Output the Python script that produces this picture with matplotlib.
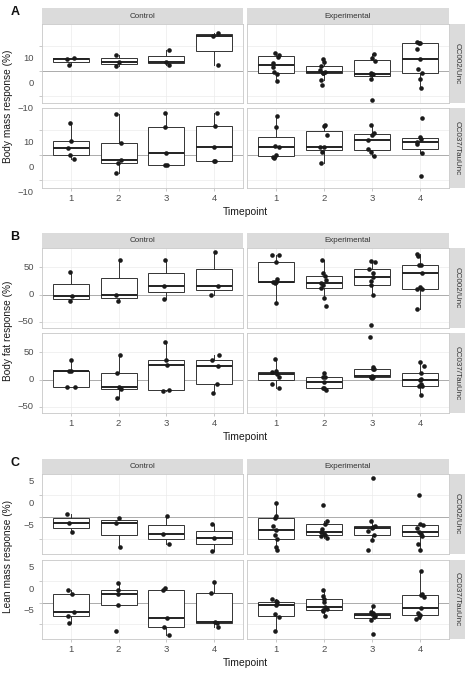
import numpy as np
import matplotlib
matplotlib.use('Agg')
import matplotlib.pyplot as plt
from matplotlib import transforms

plt.rcParams['font.family'] = ['Liberation Sans', 'DejaVu Sans']

# ---- data ----
timepoints = [1, 2, 3, 4]
groups = ['Control', 'Experimental']
strains = ['CC002/Unc', 'CC037/TauUnc']

# A: body mass response (%)
mass_ctrl_cc002 = [[4.6, 5.3, 2.3], [6.4, 3.7, 1.9], [8.2, 3.7, 2.3], [14.0, 15.2, 2.1]]
mass_ctrl_cc002_dx = [[-0.07, 0.07, -0.03], [-0.06, 0.0, -0.06], [0.06, 0.0, 0.05], [-0.03, 0.07, 0.07]]
mass_ctrl_cc037 = [[12.8, 5.8, 2.8, 0.0, -1.3], [16.6, 4.9, -3.0, -1.7, -7.2],
                   [17.0, 11.4, 0.8, -3.9, -3.9], [17.0, 11.6, 3.3, -2.4, -2.4]]
mass_ctrl_cc037_dx = [[-0.01, 0.0, -0.05, -0.01, 0.07], [-0.06, 0.05, -0.02, 0.06, -0.06],
                      [-0.03, -0.04, 0.0, -0.04, 0.01], [0.06, 0.02, -0.01, 0.01, 0.0]]
mass_exp_cc002 = [[7.2, 6.5, 5.5, 3.0, 1.6, -0.5, -1.5, -4.1],
                  [4.9, 3.6, 1.8, 0.2, -0.5, -0.8, -1.0, -3.8, -5.6],
                  [6.7, 5.2, 3.8, -1.1, -1.3, -1.5, -3.3, -11.7],
                  [11.4, 11.3, 11.2, 8.7, 4.8, 0.7, -0.8, -3.3, -6.8]]
mass_exp_cc002_dx = [[-0.02, 0.06, 0.04, -0.05, -0.06, -0.03, 0.02, 0.03],
                     [-0.03, 0.01, -0.06, -0.08, 0.02, -0.03, -0.01, -0.06, -0.05],
                     [0.05, 0.0, 0.06, -0.03, 0.01, -0.02, -0.03, 0.0],
                     [-0.07, 0.0, -0.03, -0.07, 0.0, -0.05, 0.04, 0.0, 0.02]]
mass_exp_cc037 = [[15.5, 11.1, 3.7, 3.1, 0.3, -0.5, -1.2],
                  [12.1, 11.5, 7.9, 3.3, 3.2, 1.2, -2.9],
                  [12.0, 8.7, 8.2, 5.9, 2.4, 1.5, -0.3],
                  [14.8, 7.1, 6.3, 5.1, 4.5, 0.9, -8.3]]
mass_exp_cc037_dx = [[0.03, 0.01, -0.02, 0.06, 0.0, -0.05, -0.03],
                     [0.03, 0.01, 0.06, -0.08, 0.0, -0.05, -0.06],
                     [-0.02, 0.05, 0.0, -0.08, -0.08, -0.03, 0.05],
                     [0.03, -0.01, 0.01, -0.07, -0.06, 0.04, 0.01]]

# B: body fat response (%)
fat_ctrl_cc002 = [[40.9, -3.0, -12.2], [62.2, 0.0, -11.6], [62.2, 16.5, -7.3], [77.5, 16.5, -1.2]]
fat_ctrl_cc002_dx = [[-0.01, 0.02, -0.01], [0.03, -0.06, -0.02], [-0.04, -0.06, -0.06], [0.02, 0.07, -0.06]]
fat_ctrl_cc037 = [[36.6, 16.2, 15.9, -13.0, -13.4], [45.1, 11.6, -13.4, -17.1, -32.9],
                  [68.9, 36.6, 26.8, -18.3, -20.7], [44.5, 36.0, 25.0, -7.9, -24.4]]
fat_ctrl_cc037_dx = [[0.01, 0.0, -0.03, -0.07, 0.08], [0.03, -0.04, 0.0, 0.06, -0.04],
                     [-0.04, 0.0, 0.01, 0.05, -0.08], [0.09, -0.05, 0.07, 0.06, -0.03]]
fat_exp_cc002 = [[72.6, 71.4, 59.2, 28.1, 22.8, 22.5, 22.2, 21.8, -14.6],
                 [63.4, 39.7, 33.0, 26.8, 21.4, 18.3, 12.2, -6.1, -20.7],
                 [61.0, 59.2, 45.8, 40.0, 32.9, 25.0, 18.3, 0.0, -54.9],
                 [74.4, 69.5, 54.3, 53.1, 39.7, 14.0, 11.0, 10.4, -26.2]]
fat_exp_cc002_dx = [[-0.08, 0.06, 0.0, 0.02, -0.05, -0.01, 0.0, -0.02, 0.01],
                    [-0.05, -0.01, 0.03, 0.05, -0.07, -0.02, -0.06, 0.0, 0.05],
                    [-0.03, 0.06, -0.06, 0.01, 0.01, -0.02, -0.02, 0.03, -0.02],
                    [-0.06, -0.05, -0.03, 0.02, 0.03, 0.0, 0.04, -0.07, -0.07]]
fat_exp_cc037 = [[38.4, 15.3, 14.0, 9.8, 5.5, -7.9, -15.3],
                 [11.6, 5.5, 4.3, -4.9, -14.6, -16.0, -18.9],
                 [77.5, 22.6, 19.5, 18.9, 6.1, 5.5, 4.6, 4.0, 3.0],
                 [32.9, 24.4, 12.2, 1.2, -1.2, -7.9, -11.0, -11.5, -27.5]]
fat_exp_cc037_dx = [[-0.02, 0.0, -0.07, 0.03, 0.06, -0.07, 0.07],
                    [0.0, -0.01, 0.03, 0.01, -0.03, 0.0, 0.05],
                    [-0.04, 0.03, 0.05, 0.01, 0.0, -0.02, -0.03, 0.01, 0.0],
                    [0.0, 0.07, 0.02, 0.02, -0.01, 0.01, -0.03, 0.03, 0.02]]

# C: lean mass response (%)
lean_ctrl_cc002 = [[0.8, -1.4, -3.4], [-0.1, -1.4, -6.7], [0.2, -3.8, -6.2], [-1.5, -4.7, -7.7]]
lean_ctrl_cc002_dx = [[-0.07, -0.03, 0.02], [0.0, -0.06, 0.03], [0.01, -0.08, 0.05], [-0.05, 0.0, -0.05]]
lean_ctrl_cc037 = [[2.9, 2.0, -2.1, -3.0, -4.8], [4.4, 2.8, 2.0, -0.6, -6.6],
                   [3.4, 3.0, -3.6, -5.6, -7.5], [4.7, 2.2, -4.4, -4.8, -5.7]]
lean_ctrl_cc037_dx = [[-0.05, 0.03, 0.07, -0.06, -0.03], [-0.02, -0.01, -0.02, -0.02, -0.06],
                      [-0.03, -0.07, 0.01, -0.06, 0.06], [0.0, -0.07, 0.01, 0.06, 0.08]]
lean_exp_cc002 = [[3.3, 0.15, -0.3, -2.1, -2.9, -4.0, -5.1, -6.9, -7.4],
                  [2.8, -1.0, -1.6, -2.7, -3.4, -3.8, -4.0, -4.2, -4.7],
                  [8.9, -0.8, -2.1, -2.2, -2.4, -3.1, -4.0, -5.3, -7.6],
                  [5.0, -1.5, -1.7, -2.5, -3.3, -3.8, -4.2, -6.1, -7.4]]
lean_exp_cc002_dx = [[0.01, 0.01, -0.02, -0.05, 0.01, -0.02, 0.03, 0.01, 0.03],
                     [-0.03, 0.07, 0.02, -0.05, -0.07, 0.0, 0.03, -0.06, 0.06],
                     [0.03, -0.03, 0.06, 0.01, 0.0, -0.08, 0.05, 0.0, -0.08],
                     [-0.03, 0.0, 0.06, -0.06, -0.03, 0.01, 0.04, -0.05, -0.01]]
lean_exp_cc037 = [[0.8, 0.3, 0.1, -0.5, -2.7, -3.4, -6.6],
                  [2.9, 1.6, 0.8, 0.1, -1.1, -1.6, -1.8, -2.0, -3.2],
                  [-0.8, -2.2, -2.4, -2.7, -3.0, -3.4, -4.0, -7.2],
                  [7.2, 2.0, 1.8, 1.2, -1.2, -2.4, -2.8, -3.4, -3.9]]
lean_exp_cc037_dx = [[-0.07, 0.01, 0.03, 0.0, -0.02, 0.07, -0.02],
                     [-0.03, -0.03, 0.0, 0.01, 0.03, 0.06, -0.03, -0.01, 0.03],
                     [0.03, -0.02, 0.01, 0.0, 0.06, 0.05, -0.03, 0.03],
                     [0.02, 0.03, 0.02, 0.07, 0.01, -0.05, -0.01, -0.03, -0.08]]

# ---- layout (pixels of the 469x678 figure) ----
W, H = 469, 678
fig = plt.figure(figsize=(W / 100, H / 100), dpi=100)


def rect(x0, y0, x1, y1):
    return [x0 / W, 1 - y1 / H, (x1 - x0) / W, (y1 - y0) / H]


col_x = [(42, 243), (247, 449)]
rowstrip_x = (450, 465)

# shift: vertical offset (px, + = up) of the y tick labels, as in the original figure
panels = [
    dict(letter='A', ylabel='Body mass response (%)', strip=(8, 24), rows=[(24, 103), (108, 188)],
         ylim=(-13.0, 18.8), ticks=[-10, 0, 10], tlabels=['−10', '0', '10'], shift=-12.5,
         data=[[mass_ctrl_cc002, mass_exp_cc002], [mass_ctrl_cc037, mass_exp_cc037]],
         dx=[[mass_ctrl_cc002_dx, mass_exp_cc002_dx], [mass_ctrl_cc037_dx, mass_exp_cc037_dx]]),
    dict(letter='B', ylabel='Body fat response (%)', strip=(233, 248), rows=[(248, 328), (333, 413)],
         ylim=(-61, 85), ticks=[-50, 0, 50], tlabels=['−50', '0', '50'], shift=0,
         data=[[fat_ctrl_cc002, fat_exp_cc002], [fat_ctrl_cc037, fat_exp_cc037]],
         dx=[[fat_ctrl_cc002_dx, fat_exp_cc002_dx], [fat_ctrl_cc037_dx, fat_exp_cc037_dx]]),
    dict(letter='C', ylabel='Lean mass response (%)', strip=(459, 474), rows=[(474, 554), (560, 639)],
         ylim=(-8.4, 9.8), ticks=[-5, 0, 5], tlabels=['−5', '0', '5'], shift=13.5,
         data=[[lean_ctrl_cc002, lean_exp_cc002], [lean_ctrl_cc037, lean_exp_cc037]],
         dx=[[lean_ctrl_cc002_dx, lean_exp_cc002_dx], [lean_ctrl_cc037_dx, lean_exp_cc037_dx]]),
]

grey_txt = '#4D4D4D'
strip_bg = '#DBDBDB'

for p in panels:
    for r, (ry0, ry1) in enumerate(p['rows']):
        for c, (cx0, cx1) in enumerate(col_x):
            ax = fig.add_axes(rect(cx0, ry0, cx1, ry1))
            vals = p['data'][r][c]
            offs = p['dx'][r][c]
            ax.set_xlim(0.4, 4.6)
            ax.set_ylim(*p['ylim'])
            for x in timepoints:
                ax.axvline(x, color='#EBEBEB', lw=0.5, zorder=0)
            for t in p['ticks']:
                ax.axhline(t, color='#EBEBEB', lw=0.5, zorder=0)
            ax.axhline(0, color='#ABABAB', lw=0.7, zorder=1)
            ax.boxplot(vals, positions=timepoints, widths=0.75, showfliers=False, showcaps=False,
                       patch_artist=True, zorder=2,
                       boxprops=dict(facecolor='white', edgecolor='#333333', linewidth=0.7),
                       whiskerprops=dict(color='#333333', linewidth=0.7),
                       medianprops=dict(color='#222222', linewidth=1.4))
            for t, v, o in zip(timepoints, vals, offs):
                ax.plot(np.array(o) + t, v, 'o', color='#1A1A1A', ms=3.3, mec='none', zorder=3)
            for s in ax.spines.values():
                s.set_color('#C8C8C8')
                s.set_linewidth(0.6)
            ax.set_yticks(p['ticks'])
            ax.set_xticks(timepoints)
            ax.set_xticklabels([str(t) for t in timepoints])
            ax.tick_params(axis='y', labelleft=False, length=2.5 if c == 0 else 0,
                           color='#B3B3B3', width=0.5)
            if r == 1:
                ax.tick_params(axis='x', length=2.5, color='#B3B3B3', width=0.5,
                               labelsize=6.8, labelcolor=grey_txt, pad=2)
            else:
                ax.tick_params(axis='x', length=0, labelbottom=False)
            if c == 0:
                # tick labels drawn as text so their vertical offset matches the original
                off = transforms.ScaledTranslation(-8 / 100, p['shift'] / 100, fig.dpi_scale_trans)
                tr = transforms.blended_transform_factory(ax.transAxes, ax.transData) + off
                for t, lab in zip(p['ticks'], p['tlabels']):
                    ax.text(0, t, lab, transform=tr, ha='right', va='center',
                            fontsize=6.8, color=grey_txt)
            if r == 0:
                sax = fig.add_axes(rect(cx0, p['strip'][0], cx1, p['strip'][1]))
                sax.set_facecolor(strip_bg)
                sax.set_xticks([]); sax.set_yticks([])
                for s in sax.spines.values():
                    s.set_visible(False)
                sax.text(0.5, 0.5, groups[c], ha='center', va='center', fontsize=5.8,
                         color='#333333', transform=sax.transAxes)
        rax = fig.add_axes(rect(rowstrip_x[0], ry0, rowstrip_x[1], ry1))
        rax.set_facecolor(strip_bg)
        rax.set_xticks([]); rax.set_yticks([])
        for s in rax.spines.values():
            s.set_visible(False)
        rax.text(0.5, 0.5, strains[r], ha='center', va='center', fontsize=5.8, rotation=-90,
                 color='#333333', transform=rax.transAxes)

    y_mid = (p['rows'][0][0] + p['rows'][1][1]) / 2
    fig.text(8 / W, 1 - y_mid / H, p['ylabel'], rotation=90, ha='center', va='center',
             fontsize=7.3, color='#1A1A1A')
    fig.text(245 / W, 1 - (p['rows'][1][1] + 24) / H, 'Timepoint', ha='center', va='center',
             fontsize=7.5, color='#1A1A1A')
    fig.text(15 / W, 1 - (p['strip'][0] + 4) / H, p['letter'], ha='center', va='center',
             fontsize=9, fontweight='bold', color='#111111')

fig.savefig('out.png', dpi=100)
